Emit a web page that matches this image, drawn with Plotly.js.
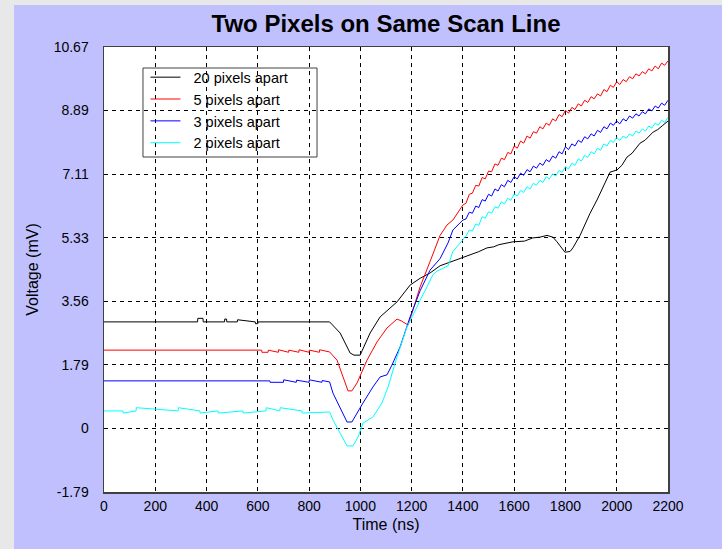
<!DOCTYPE html>
<html>
<head>
<meta charset="utf-8">
<script src="https://cdn.plot.ly/plotly-3.0.1.min.js"></script>
<style>
html,body{margin:0;padding:0;background:#E8E8E8;width:722px;height:549px;overflow:hidden;}
#chart{position:absolute;left:14px;top:5px;width:708px;height:544px;}
</style>
</head>
<body>
<div id="chart"></div>
<script>
// ---- data ----
const seriesNames = ["20 pixels apart", "5 pixels apart", "3 pixels apart", "2 pixels apart"];

const blackT = [0, 365, 366, 386, 387, 470, 471, 478, 479, 520, 521, 590, 591, 600, 601, 880, 921, 960, 975, 999, 1038, 1077, 1143, 1194, 1233, 1272, 1311, 1350, 1400, 1440, 1460, 1494, 1520, 1540, 1595, 1640, 1673, 1700, 1728, 1751, 1767, 1798, 1818, 1829, 1857, 1884, 1896, 1923, 1935, 1974, 2001, 2020, 2040, 2060, 2091, 2110, 2142, 2160, 2180, 2196, 2200];
const blackV = [2.98, 2.98, 3.08, 3.08, 2.98, 2.98, 3.06, 3.06, 2.98, 2.98, 3.04, 2.98, 2.93, 2.93, 2.98, 2.98, 2.67, 2.11, 2.05, 2.05, 2.67, 3.12, 3.54, 4.01, 4.20, 4.35, 4.55, 4.65, 4.79, 4.90, 4.94, 5.05, 5.08, 5.14, 5.22, 5.24, 5.33, 5.35, 5.40, 5.35, 5.22, 4.93, 4.95, 5.05, 5.40, 5.83, 6.02, 6.39, 6.58, 7.17, 7.23, 7.36, 7.59, 7.70, 7.98, 8.06, 8.29, 8.36, 8.48, 8.57, 8.60];

const redT = [0, 615, 616, 640, 641, 680, 681, 720, 721, 760, 761, 800, 801, 840, 841, 880, 909, 932, 952, 967, 987, 1026, 1065, 1104, 1143, 1162, 1186, 1205, 1233, 1272, 1311, 1338, 1361, 1400, 1412, 1425, 1437, 1450, 1462, 1475, 1487, 1500, 1512, 1525, 1537, 1550, 1562, 1575, 1587, 1600, 1612, 1625, 1637, 1650, 1662, 1675, 1687, 1700, 1712, 1725, 1737, 1750, 1762, 1775, 1787, 1800, 1812, 1825, 1837, 1850, 1862, 1875, 1887, 1900, 1912, 1925, 1937, 1950, 1962, 1975, 1987, 2000, 2012, 2025, 2037, 2050, 2062, 2075, 2087, 2100, 2112, 2125, 2137, 2150, 2162, 2175, 2187, 2200];
const redV = [2.19, 2.19, 2.13, 2.13, 2.19, 2.13, 2.20, 2.13, 2.19, 2.13, 2.20, 2.13, 2.19, 2.13, 2.20, 2.14, 1.91, 1.44, 1.05, 1.05, 1.27, 1.91, 2.42, 2.81, 3.06, 3.00, 2.89, 3.31, 3.96, 4.67, 5.40, 5.69, 5.83, 6.25, 6.30, 6.55, 6.58, 6.80, 6.78, 7.02, 6.98, 7.20, 7.18, 7.40, 7.36, 7.56, 7.52, 7.72, 7.68, 7.90, 7.84, 8.04, 7.98, 8.18, 8.12, 8.30, 8.26, 8.44, 8.38, 8.54, 8.48, 8.66, 8.60, 8.78, 8.72, 8.90, 8.82, 8.98, 8.92, 9.08, 9.02, 9.18, 9.12, 9.28, 9.22, 9.36, 9.30, 9.48, 9.42, 9.60, 9.54, 9.70, 9.62, 9.76, 9.70, 9.84, 9.78, 9.92, 9.86, 9.98, 9.92, 10.06, 10.00, 10.14, 10.06, 10.22, 10.16, 10.28];

const blueT = [0, 647, 648, 700, 701, 750, 751, 800, 801, 850, 851, 880, 893, 921, 948, 967, 987, 1010, 1049, 1077, 1104, 1123, 1155, 1194, 1233, 1272, 1311, 1342, 1361, 1400, 1412, 1425, 1437, 1450, 1462, 1475, 1487, 1500, 1512, 1525, 1537, 1550, 1562, 1575, 1587, 1600, 1612, 1625, 1637, 1650, 1662, 1675, 1687, 1700, 1712, 1725, 1737, 1750, 1762, 1775, 1787, 1800, 1812, 1825, 1837, 1850, 1862, 1875, 1887, 1900, 1912, 1925, 1937, 1950, 1962, 1975, 1987, 2000, 2012, 2025, 2037, 2050, 2062, 2075, 2087, 2100, 2112, 2125, 2137, 2150, 2162, 2175, 2187, 2200];
const blueV = [1.33, 1.33, 1.29, 1.29, 1.36, 1.29, 1.35, 1.29, 1.36, 1.29, 1.34, 1.30, 0.99, 0.60, 0.18, 0.18, 0.43, 0.71, 1.16, 1.44, 1.50, 1.77, 2.28, 3.12, 3.85, 4.43, 4.75, 5.19, 5.55, 5.83, 5.86, 6.05, 6.02, 6.22, 6.18, 6.40, 6.36, 6.55, 6.50, 6.70, 6.64, 6.82, 6.76, 6.94, 6.88, 7.04, 6.98, 7.14, 7.08, 7.24, 7.18, 7.34, 7.28, 7.42, 7.36, 7.52, 7.46, 7.62, 7.56, 7.74, 7.68, 7.88, 7.80, 7.96, 7.90, 8.06, 8.00, 8.16, 8.10, 8.24, 8.18, 8.34, 8.28, 8.44, 8.38, 8.54, 8.48, 8.60, 8.52, 8.66, 8.60, 8.74, 8.68, 8.80, 8.74, 8.86, 8.80, 8.94, 8.88, 9.02, 8.96, 9.10, 9.04, 9.18];

const cyanT = [0, 74, 75, 125, 126, 289, 290, 374, 375, 445, 446, 542, 543, 632, 633, 686, 687, 772, 773, 880, 893, 921, 948, 971, 991, 1010, 1049, 1084, 1108, 1143, 1182, 1221, 1233, 1260, 1283, 1299, 1342, 1361, 1400, 1412, 1425, 1437, 1450, 1462, 1475, 1487, 1500, 1512, 1525, 1537, 1550, 1562, 1575, 1587, 1600, 1612, 1625, 1637, 1650, 1662, 1675, 1687, 1700, 1712, 1725, 1737, 1750, 1762, 1775, 1787, 1800, 1812, 1825, 1837, 1850, 1862, 1875, 1887, 1900, 1912, 1925, 1937, 1950, 1962, 1975, 1987, 2000, 2012, 2025, 2037, 2050, 2062, 2075, 2087, 2100, 2112, 2125, 2137, 2150, 2162, 2175, 2187, 2200];
const cyanV = [0.49, 0.49, 0.43, 0.49, 0.58, 0.49, 0.58, 0.49, 0.43, 0.49, 0.43, 0.49, 0.43, 0.49, 0.58, 0.49, 0.58, 0.49, 0.43, 0.46, 0.24, -0.13, -0.49, -0.49, -0.24, 0.15, 0.32, 0.71, 1.16, 2.00, 2.84, 3.40, 3.59, 3.96, 4.30, 4.40, 4.55, 4.95, 5.30, 5.38, 5.55, 5.52, 5.72, 5.68, 5.92, 5.88, 6.06, 6.02, 6.20, 6.16, 6.34, 6.28, 6.44, 6.38, 6.56, 6.50, 6.66, 6.60, 6.76, 6.70, 6.86, 6.80, 6.94, 6.88, 7.04, 6.98, 7.12, 7.06, 7.22, 7.16, 7.32, 7.26, 7.42, 7.36, 7.54, 7.48, 7.64, 7.58, 7.74, 7.68, 7.84, 7.78, 7.96, 7.90, 8.06, 8.00, 8.14, 8.06, 8.18, 8.12, 8.24, 8.18, 8.32, 8.26, 8.38, 8.32, 8.46, 8.40, 8.54, 8.48, 8.62, 8.56, 8.70];

const yTickVals = [-1.7783, 0, 1.7783, 3.5567, 5.335, 7.1133, 8.8917, 10.67];
const yTickText = ["-1.79", "0", "1.79", "3.56", "5.33", "7.11", "8.89", "10.67"];
const xTickVals = [0, 200, 400, 600, 800, 1000, 1200, 1400, 1600, 1800, 2000, 2200];
const xTickText = ["0", "200", "400", "600", "800", "1000", "1200", "1400", "1600", "1800", "2000", "2200"];

// ---- chart ----
const FONT = '"Liberation Sans", Arial, sans-serif';
const colors = ["#000000", "#FF0000", "#0000FF", "#00FFFF"];
const xs = [blackT, redT, blueT, cyanT];
const ys = [blackV, redV, blueV, cyanV];

const traces = seriesNames.map((n, i) => ({
  type: 'scatter', mode: 'lines', name: '\u00A0\u00A0' + n,
  x: xs[i], y: ys[i],
  line: {color: colors[i], width: 1}
}));

const axisCommon = {
  showgrid: true, gridcolor: '#000000', griddash: '4px,4px', gridwidth: 1,
  zeroline: false, showline: true, linecolor: '#404040', linewidth: 1.5, mirror: true,
  ticks: '', tickfont: {family: FONT, size: 14, color: '#000'}
};

const layout = {
  width: 708, height: 544,
  paper_bgcolor: '#C0C0FF', plot_bgcolor: '#FFFFFF',
  margin: {l: 90, r: 54, t: 42, b: 57},
  font: {family: FONT, color: '#000'},
  title: {text: 'Two Pixels on Same Scan Line', x: 0.5, xref: 'paper', xanchor: 'center', y: 0.965, yref: 'container', yanchor: 'middle',
          font: {family: FONT, size: 24, weight: 'bold', color: '#000'}},
  xaxis: Object.assign({}, axisCommon, {
    range: [0, 2200], tickvals: xTickVals, ticktext: xTickText, ticklabelstandoff: 1,
    title: {text: 'Time (ns)', font: {family: FONT, size: 16}, standoff: 5}
  }),
  yaxis: Object.assign({}, axisCommon, {
    range: [-1.7783, 10.67], tickvals: yTickVals, ticktext: yTickText, ticklabelstandoff: 11,
    title: {text: 'Voltage (mV)', font: {family: FONT, size: 16}, standoff: 11}
  }),
  shapes: [{type: 'rect', xref: 'paper', yref: 'paper', x0: 0.0691, x1: 0.3777, y0: 0.7528, y1: 0.9528,
            layer: 'between', fillcolor: '#FFFFFF', line: {color: '#404040', width: 1}}],
  showlegend: true,
  legend: {x: 0.0735, y: 0.968, xanchor: 'left', yanchor: 'top', bgcolor: 'rgba(0,0,0,0)', borderwidth: 0,
           font: {family: FONT, size: 14.5, color: '#000'}, tracegroupgap: 0}
};

Plotly.newPlot('chart', traces, layout, {displayModeBar: false, staticPlot: true});
</script>
</body>
</html>
